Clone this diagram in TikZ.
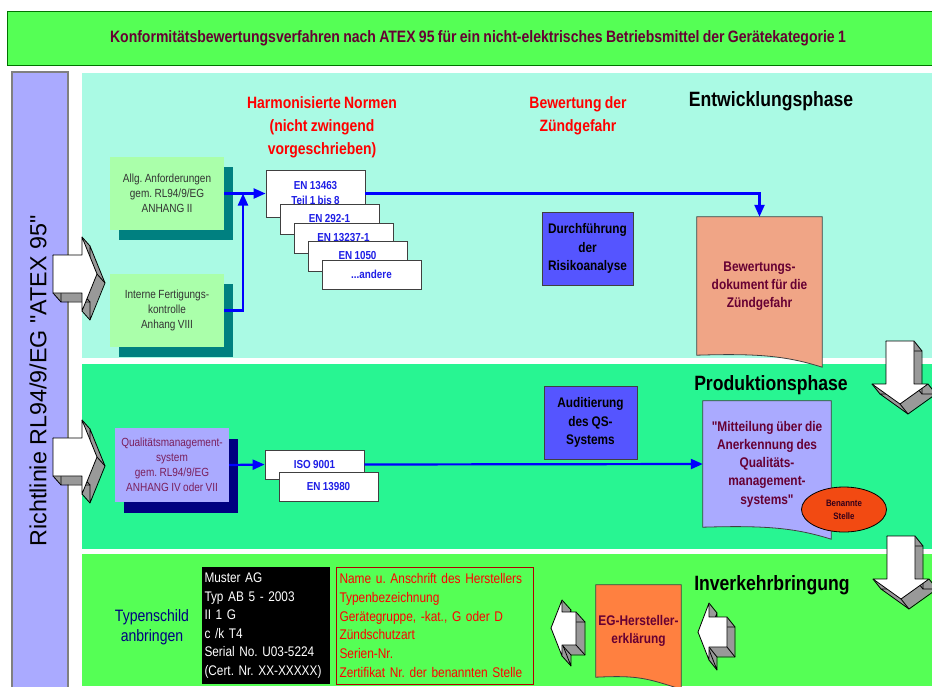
\documentclass[tikz,border=0pt]{standalone}
\usepackage{fontspec}
\setmainfont{Liberation Sans}[FakeStretch=0.85, WordSpace=0.85, Ligatures=TeXOff]
\newfontfamily\widefont{Liberation Sans}[Ligatures=TeXOff]
\usetikzlibrary{arrows.meta, positioning, calc, shapes.geometric, shadows, backgrounds}
\frenchspacing
\definecolor{titlegreen}{HTML}{55FF55}
\definecolor{devmint}{HTML}{AAFAE4}
\definecolor{prodgreen}{HTML}{28F592}
\definecolor{landgreen}{HTML}{55FF55}
\definecolor{lilac}{HTML}{AAAAFF}
\definecolor{palegreen}{HTML}{AAFFAA}
\definecolor{tealshade}{HTML}{008080}
\definecolor{navyshade}{HTML}{000080}
\definecolor{auditblue}{HTML}{5555FF}
\definecolor{salmon}{HTML}{F0A586}
\definecolor{tangerine}{HTML}{FF8040}
\definecolor{notified}{HTML}{F24A12}
\definecolor{maroon}{HTML}{660033}
\definecolor{plum}{HTML}{7A1F5C}
\definecolor{normblue}{HTML}{1E1EE6}
\definecolor{flowblue}{HTML}{0000FF}
\definecolor{shadegray}{HTML}{999999}
\definecolor{darktext}{HTML}{333333}

% 3D block arrow: origin x, origin y, depth x, depth y, corners
\newcommand{\blockarrow}[5]{%
  \begin{scope}[shift={(#1,#2)}]
    \foreach \k in {0,0.05,...,1}
      \fill[shadegray, shift={(\k*#3,\k*#4)}] (0,0) \foreach \a/\b in {#5} { -- (\a,\b) } -- cycle;
    \draw[arrowline, shift={(#3,#4)}] (0,0) \foreach \a/\b in {#5} { -- (\a,\b) } -- cycle;
    \draw[arrowline] (0,0) -- ++(#3,#4);
    \foreach \a/\b in {#5} \draw[arrowline] (\a,\b) -- ++(#3,#4);
    \draw[arrowline, fill=white] (0,0) \foreach \a/\b in {#5} { -- (\a,\b) } -- cycle;
  \end{scope}}

% sheet with wavy lower edge behind a node
\newcommand{\docpath}[2]{%
  \begin{pgfonlayer}{background}
    \draw[boxline, fill=#2] (#1.north west) -- (#1.north east) -- ($(#1.south east)+(0,12)$)
      .. controls ($(#1.south east)+(-35,1)$) and ($(#1.south)+(0,-2)$) .. (#1.south west) -- cycle;
  \end{pgfonlayer}}

\begin{document}
\begin{tikzpicture}[x=1pt, y=-1pt,
  flow/.style={draw=flowblue, line width=2.2pt, -{Triangle[length=12pt, width=10pt]}},
  boxline/.style={draw=black!75, line width=0.8pt},
  arrowline/.style={draw=black, line width=0.8pt, line join=round},
  smallbox/.style={minimum width=114pt, minimum height=73pt, align=center, inner sep=2pt,
    text=darktext, font=\fontsize{11.8}{15}\selectfont},
  tealshadow/.style={drop shadow={shadow xshift=9pt, shadow yshift=-10pt, fill=tealshade, opacity=1}},
  normbox/.style={boxline, fill=white, minimum width=99pt, align=center, inner sep=1pt,
    text=normblue, font=\bfseries\fontsize{11.6}{15}\selectfont},
  taskbox/.style={boxline, fill=auditblue, minimum height=73pt, align=center, inner sep=2pt,
    font=\bfseries\fontsize{13.9}{18.3}\selectfont},
  doctext/.style={align=center, inner sep=0pt, text=maroon, font=\bfseries\fontsize{14}{18.3}\selectfont},
  redhead/.style={align=center, text=red, font=\bfseries\fontsize{16.4}{23}\selectfont},
  phase/.style={font=\bfseries\fontsize{20.7}{24}\selectfont}]

\useasboundingbox (0,0) rectangle (932,686);

% Bands
\begin{pgfonlayer}{background}
  \fill[white] (0,0) rectangle (932,686);
  \fill[devmint] (82,73) rectangle (932,358);
  \fill[prodgreen] (82,364) rectangle (932,549);
  \fill[landgreen] (82,554) rectangle (932,686);
\end{pgfonlayer}

% Title
\node[draw=green!45!black, line width=1pt, fill=titlegreen, minimum width=942pt, minimum height=54pt,
  text=maroon, font=\bfseries\fontsize{16.5}{20}\selectfont] (title) at (478,38)
  {Konformitätsbewertungsverfahren nach ATEX 95 für ein nicht-elektrisches Betriebsmittel der Gerätekategorie 1};

% Directive bar
\draw[draw=gray, line width=1.2pt, fill=lilac] (12,72) rectangle (68,692);
\node[rotate=90, font=\widefont\fontsize{23.3}{28}\selectfont] (directive) at (38,381)
  {Richtlinie RL94/9/EG "ATEX 95"};

% ========== Entwicklungsphase ==========
\node[phase] (devphase) at (771,101) {Entwicklungsphase};
\node[redhead] (normen) at (322,127) {Harmonisierte Normen\\(nicht zwingend\\vorgeschrieben)};
\node[redhead] (gefahr) at (578,116) {Bewertung der\\Zündgefahr};

\node[smallbox, fill=palegreen, tealshadow] (allg) at (167,193.5) {Allg. Anforderungen\\gem. RL94/9/EG\\ANHANG II};
\node[smallbox, fill=palegreen, tealshadow] (intern) at (167,310.5) {Interne Fertigungs-\\kontrolle\\Anhang VIII};

\node[normbox, minimum height=47pt] (en1) at (315.5,193.5) {EN 13463\\Teil 1 bis 8};
\node[normbox, minimum height=30pt] (en2) at (329.5,219) {EN 292-1};
\node[normbox, minimum height=30pt] (en3) at (343.5,238) {EN 13237-1};
\node[normbox, minimum height=30pt] (en4) at (357.5,256) {EN 1050};
\node[normbox, minimum height=29pt] (en5) at (371.5,274.5) {...andere};

\node[taskbox, minimum width=91pt] (risiko) at (587.5,248.5) {Durchführung\\der\\Risikoanalyse};

\node[minimum width=125pt, minimum height=138pt, inner sep=0pt] (bewdoc) at (759.5,286) {};
\docpath{bewdoc}{salmon}
\node[doctext] (bewtext) at (bewdoc) {Bewertungs-\\dokument für die\\Zündgefahr};

\coordinate (join) at (243,193.5);
\draw[flow] (allg.east) -- (en1.west);
\draw[flow] (intern.east) -| (join);
\draw[flow] (en1.east) -| (bewdoc.north);

% ========== Produktionsphase ==========
\node[phase] (prodphase) at (771,385) {Produktionsphase};

\node[smallbox, fill=lilac, text=plum, minimum height=74pt, inner sep=0pt,
  drop shadow={shadow xshift=9pt, shadow yshift=-11pt, fill=navyshade, opacity=1}] (qm) at (172,465)
  {Qualitätsmanagement-\\system\\gem. RL94/9/EG\\ANHANG IV oder VII};

\node[normbox, minimum height=29pt] (iso) at (314.5,464.5) {ISO 9001};
\node[normbox, minimum height=29pt] (en6) at (328.5,486.5) {EN 13980};

\node[taskbox, minimum width=93pt] (audit) at (590.5,422.5) {Auditierung\\des QS-\\Systems};

\node[minimum width=128pt, minimum height=126pt, inner sep=0pt] (mitdoc) at (767,464) {};
\docpath{mitdoc}{lilac}
\node[doctext] (mittext) at (mitdoc) {"Mitteilung über die\\Anerkennung des\\Qualitäts-\\management-\\systems"};

\node[ellipse, draw=black, line width=0.8pt, fill=notified, minimum width=85pt, minimum height=45pt,
  inner sep=0pt, align=center, text=maroon!50!black, font=\bfseries\fontsize{9.3}{13}\selectfont]
  (stelle) at (844,509.5) {Benannte\\Stelle};

\draw[flow] (qm.east) -- (iso.west);
\draw[flow] (iso.east) -- (mitdoc.west);

% ========== Inverkehrbringung ==========
\node[phase] (marketphase) at (772,585) {Inverkehrbringung};

\node[align=center, text=navyshade, font=\fontsize{16.5}{20}\selectfont] (schild) at (152,627) {Typenschild\\anbringen};

\node[fill=black, text=white, text width=122pt, inner xsep=3pt, minimum height=117pt, align=left,
  font=\fontsize{13.9}{18.6}\selectfont] (plate) at (265.5,625.5)
  {Muster AG\\Typ AB 5 - 2003\\II 1 G\\c /k T4\\Serial No. U03-5224\\(Cert. Nr. XX-XXXXX)};

\node[draw=red!70!black, line width=0.8pt, text=red, text width=190pt, inner xsep=3.5pt, minimum height=117pt,
  align=left, font=\fontsize{14}{18.7}\selectfont] (angaben) at (434.5,625.5)
  {Name u. Anschrift des Herstellers\\Typenbezeichnung\\Gerätegruppe, -kat., G oder D\\Zündschutzart\\Serien-Nr.\\Zertifikat Nr. der benannten Stelle};

\node[minimum width=85pt, minimum height=92pt, inner sep=0pt] (egdoc) at (638.5,631) {};
\docpath{egdoc}{tangerine}
\node[doctext] (egtext) at (egdoc) {EG-Hersteller-\\erklärung};

% 3D arrows
\blockarrow{53}{255}{8}{9}{29/0, 29/-18, 44/19, 29/56, 29/38, 0/38}
\blockarrow{53}{438}{8}{9}{29/0, 29/-18, 44/19, 29/56, 29/38, 0/38}
\blockarrow{886}{341}{8}{10}{28/0, 28/43, 42/43, 14/63, -14/43, 0/43}
\blockarrow{887}{536}{8}{10}{28/0, 28/43, 42/43, 14/63, -14/43, 0/43}
\blockarrow{551}{628}{9}{10}{11/-28, 11/-16, 25/-16, 25/17, 11/17, 11/28}
\blockarrow{698}{632}{8}{10}{11/-29, 11/-15, 29/-15, 29/15, 11/15, 11/28}

\end{tikzpicture}
\end{document}
